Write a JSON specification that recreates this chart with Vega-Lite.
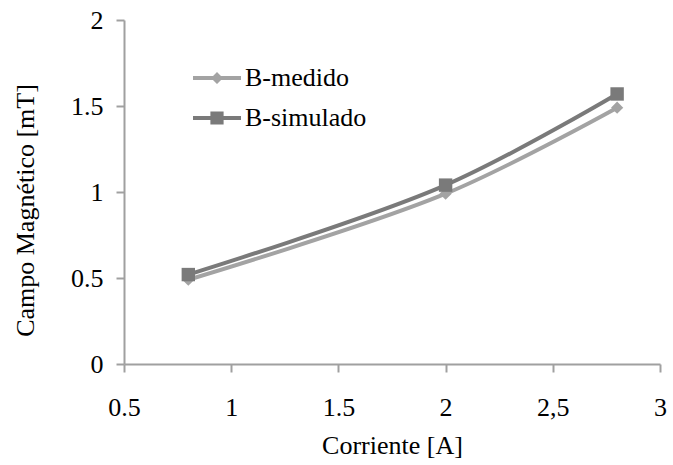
{
  "$schema": "https://vega.github.io/schema/vega-lite/v6.json",
  "width": 536,
  "height": 344,
  "autosize": {"type": "none"},
  "padding": {"left": 124, "top": 20, "right": 13, "bottom": 101},
  "background": "white",
  "config": {
    "view": {"stroke": null},
    "font": "Liberation Serif",
    "legend": {"labelFont": "Liberation Serif", "labelFontSize": 26, "labelColor": "black"},
    "axis": {
      "grid": false,
      "domainColor": "#a0a0a0",
      "domainWidth": 2,
      "tickColor": "#a0a0a0",
      "tickWidth": 2,
      "tickSize": 8,
      "labelFont": "Liberation Serif",
      "labelFontSize": 26,
      "labelColor": "black",
      "titleFont": "Liberation Serif",
      "titleFontSize": 26,
      "titleFontWeight": "normal",
      "titleColor": "black"
    }
  },
  "data": {
    "values": [
      {"serie": "B-medido", "corriente": 0.8, "campo": 0.49},
      {"serie": "B-medido", "corriente": 2.0, "campo": 0.99},
      {"serie": "B-medido", "corriente": 2.8, "campo": 1.49},
      {"serie": "B-simulado", "corriente": 0.8, "campo": 0.52},
      {"serie": "B-simulado", "corriente": 2.0, "campo": 1.04},
      {"serie": "B-simulado", "corriente": 2.8, "campo": 1.57}
    ]
  },
  "encoding": {
    "x": {
      "field": "corriente", "type": "quantitative",
      "scale": {"domain": [0.5, 3], "nice": false, "zero": false},
      "axis": {
        "values": [0.5, 1, 1.5, 2, 2.5, 3],
        "format": "~g",
        "labelExpr": "datum.value == 2.5 ? '2,5' : datum.label",
        "title": "Corriente [A]",
        "labelPadding": 22,
        "titlePadding": 12,
        "labelFlush": false
      }
    },
    "y": {
      "field": "campo", "type": "quantitative",
      "scale": {"domain": [0, 2], "nice": false},
      "axis": {
        "values": [0, 0.5, 1, 1.5, 2],
        "format": "~g",
        "title": "Campo Magnético [mT]",
        "titleY": 190,
        "labelPadding": 13,
        "titlePadding": 32,
        "labelFlush": false
      }
    }
  },
  "layer": [
    {
      "mark": {"type": "line", "strokeWidth": 4, "interpolate": "catmull-rom"},
      "encoding": {
        "color": {
          "field": "serie", "type": "nominal",
          "scale": {"domain": ["B-medido", "B-simulado"], "range": ["#a3a3a3", "#7a7a7a"]},
          "legend": {
            "orient": "none",
            "legendX": 80,
            "legendY": 45,
            "title": null,
            "symbolSize": 576,
            "symbolOpacity": 1,
            "symbolStrokeWidth": 0,
            "labelOffset": 15,
            "labelFont": "Liberation Serif",
            "labelFontSize": 26,
            "labelColor": "black",
            "labelLimit": 300,
            "rowPadding": 14,
            "encode": {
              "labels": {
                "update": {
                  "font": {"value": "Liberation Serif"},
                  "fontSize": {"value": 26},
                  "fill": {"value": "black"}
                }
              }
            }
          }
        }
      }
    },
    {
      "transform": [{"filter": "datum.serie === 'B-medido'"}],
      "mark": {"type": "point", "filled": true, "opacity": 1, "shape": "diamond", "size": 150, "color": "#a3a3a3"}
    },
    {
      "transform": [{"filter": "datum.serie === 'B-simulado'"}],
      "mark": {"type": "point", "filled": true, "opacity": 1, "shape": "square", "size": 180, "color": "#7a7a7a"}
    },
    {
      "mark": {"type": "point", "filled": true, "opacity": 0, "size": 576},
      "encoding": {
        "shape": {
          "field": "serie", "type": "nominal",
          "scale": {
            "domain": ["B-medido", "B-simulado"],
            "range": [
              "M-2,-0.17H2V0.17H-2Z M0,-0.5L0.5,0L0,0.5L-0.5,0Z",
              "M-2,-0.17H2V0.17H-2Z M-0.55,-0.55H0.55V0.55H-0.55Z"
            ]
          },
          "legend": null
        },
        "color": {
          "field": "serie", "type": "nominal",
          "scale": {"domain": ["B-medido", "B-simulado"], "range": ["#a3a3a3", "#7a7a7a"]},
          "legend": null
        }
      }
    }
  ]
}
